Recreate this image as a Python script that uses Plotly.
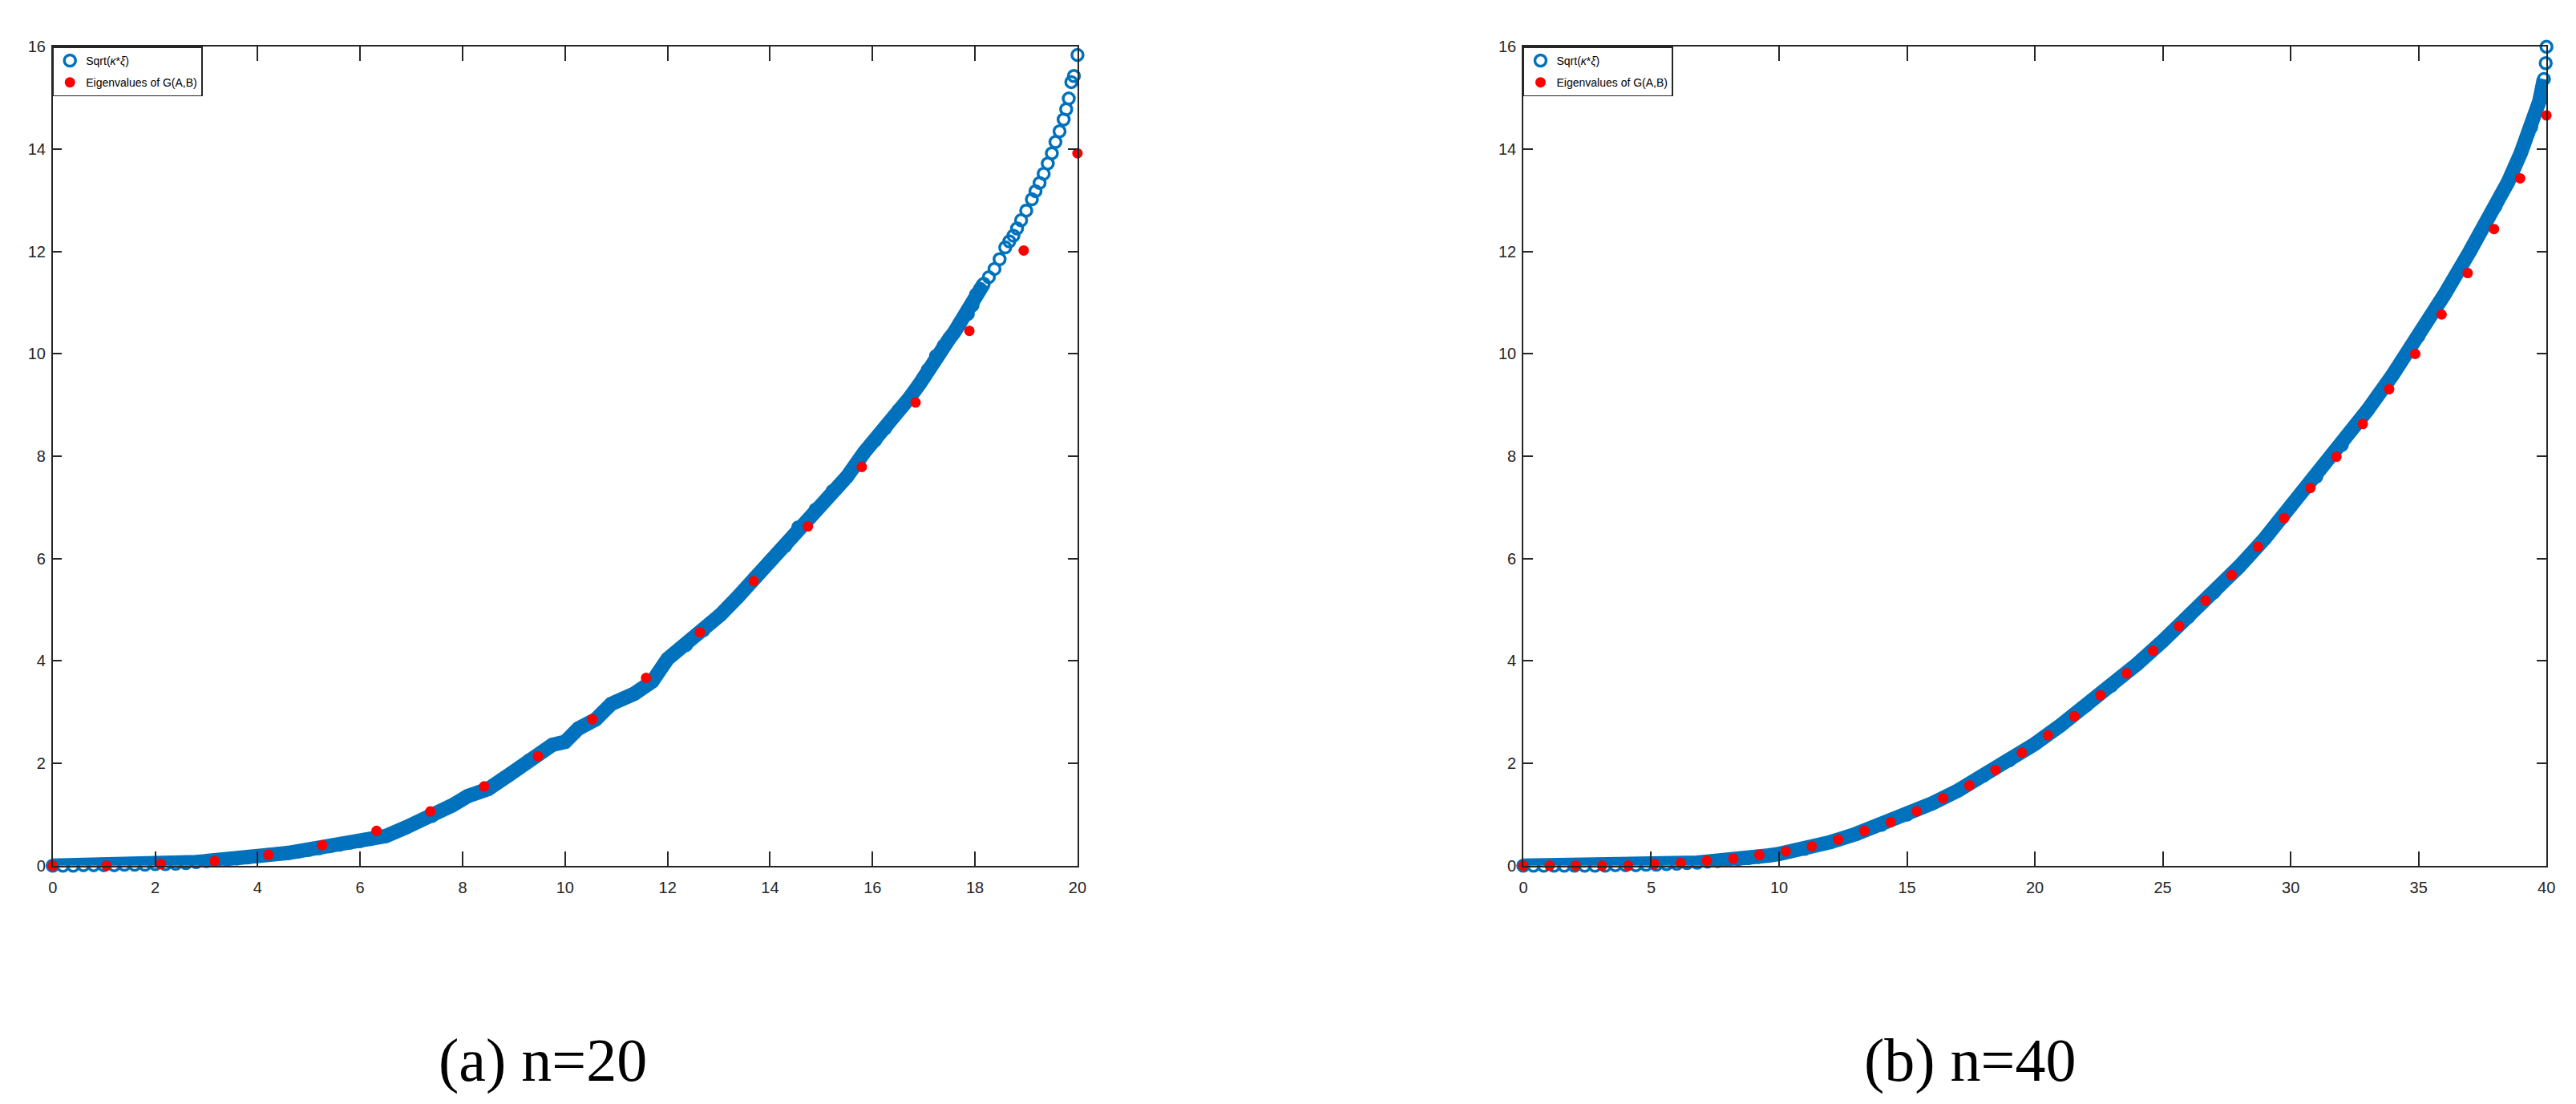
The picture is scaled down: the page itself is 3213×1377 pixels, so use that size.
import plotly.graph_objects as go

# (a) n=20 : sqrt(kappa*xi) samples
left_blue_x = [0, 0.2, 0.4, 0.6, 0.8, 1.0, 1.2, 1.4, 1.6, 1.8,
               2.0, 2.2, 2.4, 2.6, 2.8, 3.0, 3.2, 3.4, 3.6, 3.8,
               4.0, 4.2, 4.4, 4.6, 4.8, 5.0, 5.2, 5.4, 5.6, 5.8,
               6.0, 6.2, 6.5, 6.9, 7.4, 7.8, 8.1, 8.5, 8.9, 9.3,
               9.75, 10.0, 10.26, 10.6, 10.9, 11.35, 11.7, 12.0, 12.36, 12.7,
               13.03, 13.37, 13.71, 14.04, 14.3, 14.55, 14.89, 15.22, 15.5, 15.84,
               16.05, 16.25, 16.51, 16.72, 16.93, 17.08, 17.24, 17.39, 17.5, 17.6,
               17.7, 17.86, 17.95, 18.02, 18.1, 18.17, 18.27, 18.38, 18.48, 18.59,
               18.67, 18.75, 18.82, 18.9, 19.0, 19.11, 19.18, 19.26, 19.34, 19.42,
               19.5, 19.57, 19.65, 19.73, 19.78, 19.83, 19.88, 19.93, 20.0]
left_blue_y = [0.0, 0.0, 0.0, 0.01, 0.01, 0.01, 0.01, 0.02, 0.02, 0.02,
               0.03, 0.03, 0.04, 0.05, 0.07, 0.09, 0.1, 0.12, 0.14, 0.16,
               0.19, 0.21, 0.23, 0.25, 0.28, 0.31, 0.34, 0.38, 0.41, 0.45,
               0.48, 0.52, 0.58, 0.75, 0.97, 1.18, 1.36, 1.5, 1.77, 2.06,
               2.36, 2.42, 2.68, 2.86, 3.16, 3.36, 3.6, 4.04, 4.31, 4.6,
               4.9, 5.25, 5.63, 5.99, 6.25, 6.61, 6.96, 7.32, 7.6, 8.08,
               8.31, 8.55, 8.9, 9.14, 9.43, 9.69, 9.96, 10.16, 10.3, 10.43,
               10.6, 10.78, 10.95, 11.16, 11.27, 11.37, 11.5, 11.66, 11.85, 12.08,
               12.2, 12.31, 12.45, 12.61, 12.8, 13.02, 13.18, 13.34, 13.52, 13.72,
               13.92, 14.14, 14.35, 14.58, 14.78, 14.99, 15.31, 15.43, 15.84]
left_red_x = [0, 1.05, 2.11, 3.16, 4.21, 5.26, 6.32, 7.37, 8.42, 9.47,
              10.53, 11.58, 12.63, 13.68, 14.74, 15.79, 16.84, 17.89, 18.95, 20.0]
left_red_y = [0.0, 0.0, 0.03, 0.09, 0.21, 0.40, 0.68, 1.06, 1.55, 2.14,
              2.86, 3.67, 4.56, 5.56, 6.63, 7.79, 9.05, 10.45, 12.02, 13.92]

# (b) n=40
right_blue_x = [0, 0.4, 0.8, 1.2, 1.6, 2.0, 2.4, 2.8, 3.2, 3.6,
                4.0, 4.4, 4.8, 5.2, 5.6, 6.0, 6.4, 6.8, 7.2, 7.6,
                8.0, 8.4, 8.8, 9.2, 9.6, 10.0, 11, 12, 13, 14,
                15, 16, 17, 18, 19, 20, 21, 22, 23, 24,
                25, 26, 27, 28, 29, 30, 31, 32, 33, 34,
                35, 36, 37, 38, 38.5, 39, 39.4, 39.72, 39.9, 39.97,
                40]
right_blue_y = [0, 0, 0, 0, 0, 0, 0, 0, 0, 0.01,
                0.01, 0.01, 0.02, 0.02, 0.03, 0.04, 0.05, 0.06, 0.08, 0.09,
                0.11, 0.13, 0.15, 0.17, 0.2, 0.23, 0.33, 0.46, 0.62, 0.8,
                1.0, 1.22, 1.47, 1.76, 2.06, 2.38, 2.74, 3.13, 3.52, 3.94,
                4.39, 4.86, 5.34, 5.85, 6.4, 7.02, 7.6, 8.22, 8.9, 9.6,
                10.35, 11.15, 12.0, 12.88, 13.36, 13.93, 14.43, 14.93, 15.37, 15.68,
                16.0]
right_red_x = [0, 1.03, 2.05, 3.08, 4.10, 5.13, 6.15, 7.18, 8.21, 9.23,
               10.26, 11.28, 12.31, 13.33, 14.36, 15.38, 16.41, 17.44, 18.46, 19.49,
               20.51, 21.54, 22.56, 23.59, 24.62, 25.64, 26.67, 27.69, 28.72, 29.74,
               30.77, 31.79, 32.82, 33.85, 34.87, 35.90, 36.92, 37.95, 38.97, 40.0]
right_red_y = [0.0, 0.0, 0.0, 0.0, 0.0, 0.03, 0.05, 0.10, 0.14, 0.21,
               0.28, 0.38, 0.51, 0.68, 0.85, 1.06, 1.32, 1.57, 1.87, 2.21,
               2.55, 2.92, 3.33, 3.76, 4.20, 4.68, 5.18, 5.68, 6.23, 6.79,
               7.38, 7.99, 8.63, 9.31, 10.0, 10.77, 11.58, 12.44, 13.43, 14.66]

captions = ["(a) n=20", "(b) n=40"]
blue_name = "Sqrt(<i>κ</i>*<i>ξ</i>)"
red_name = "Eigenvalues of G(A,B)"

BLUE = "#0072BD"
RED = "#FF0000"
AX = "#262626"
SANS = "Liberation Sans Narrow, Liberation Sans, Arial"
TICKFONT = dict(family=SANS, size=20, color=AX)

fig = go.Figure()

panels = [
    # xaxis, yaxis, legend, blue x/y, red x/y, where the solid band stops
    ("x", "y", "legend", left_blue_x, left_blue_y, left_red_x, left_red_y, 18.2),
    ("x2", "y2", "legend2", right_blue_x, right_blue_y, right_red_x, right_red_y, 39.95),
]

for xa, ya, lg, bx, by, rx, ry, band_end in panels:
    bandx = [v for v in bx if v <= band_end]
    bandy = by[:len(bandx)]
    # thick band where the circles overlap into a solid stroke
    fig.add_trace(go.Scatter(x=bandx, y=bandy, xaxis=xa, yaxis=ya, mode="lines",
                             line=dict(color=BLUE, width=18), showlegend=False,
                             hoverinfo="skip"))
    fig.add_trace(go.Scatter(x=bx, y=by, xaxis=xa, yaxis=ya, mode="markers",
                             name=blue_name, legend=lg, legendgroup="b" + xa,
                             cliponaxis=False,
                             marker=dict(symbol="circle-open", size=14, color=BLUE,
                                         line=dict(width=3.5, color=BLUE))))
    fig.add_trace(go.Scatter(x=rx, y=ry, xaxis=xa, yaxis=ya, mode="markers",
                             name=red_name, legend=lg, legendgroup="r" + xa,
                             cliponaxis=False,
                             marker=dict(symbol="circle", size=13, color=RED)))

axis_common = dict(showgrid=False, zeroline=False, showline=True, mirror="ticks",
                   linecolor=AX, linewidth=1.5, ticks="inside", tickcolor=AX,
                   tickwidth=1.5, tickfont=TICKFONT)

y_dom = [1 - 1078 / 1377, 1 - 40 / 1377]
legend_style = dict(y=y_dom[1], xanchor="left", yanchor="top",
                    bgcolor="white", bordercolor=AX, borderwidth=1.5,
                    font=dict(family=SANS, size=14, color="black"),
                    traceorder="grouped", tracegroupgap=6, itemwidth=30)

fig.update_layout(
    width=3213, height=1377,
    margin=dict(l=0, r=0, t=0, b=0),
    paper_bgcolor="white", plot_bgcolor="white",
    xaxis=dict(domain=[52 / 3213, 1337 / 3213], range=[0, 20], dtick=2, ticklen=18,
               ticklabelstandoff=8, anchor="y", **axis_common),
    yaxis=dict(domain=y_dom, range=[0, 16], dtick=2, ticklen=12,
               ticklabelstandoff=3, anchor="x", **axis_common),
    xaxis2=dict(domain=[1896 / 3213, 3179 / 3213], range=[0, 40], dtick=5, ticklen=18,
                ticklabelstandoff=8, anchor="y2", **axis_common),
    yaxis2=dict(domain=y_dom, range=[0, 16], dtick=2, ticklen=12,
                ticklabelstandoff=3, anchor="x2", **axis_common),
    legend=dict(x=52 / 3213, **legend_style),
    legend2=dict(x=1896 / 3213, **legend_style),
)

for cap, cx in zip(captions, [667 / 3213, 2456 / 3213]):
    fig.add_annotation(text=cap, x=cx, y=1 - 1325 / 1377, xref="paper", yref="paper",
                       showarrow=False, xanchor="center", yanchor="middle",
                       font=dict(family="Liberation Serif, DejaVu Serif, serif", size=76, color="black"))

fig.write_html("out.html")
